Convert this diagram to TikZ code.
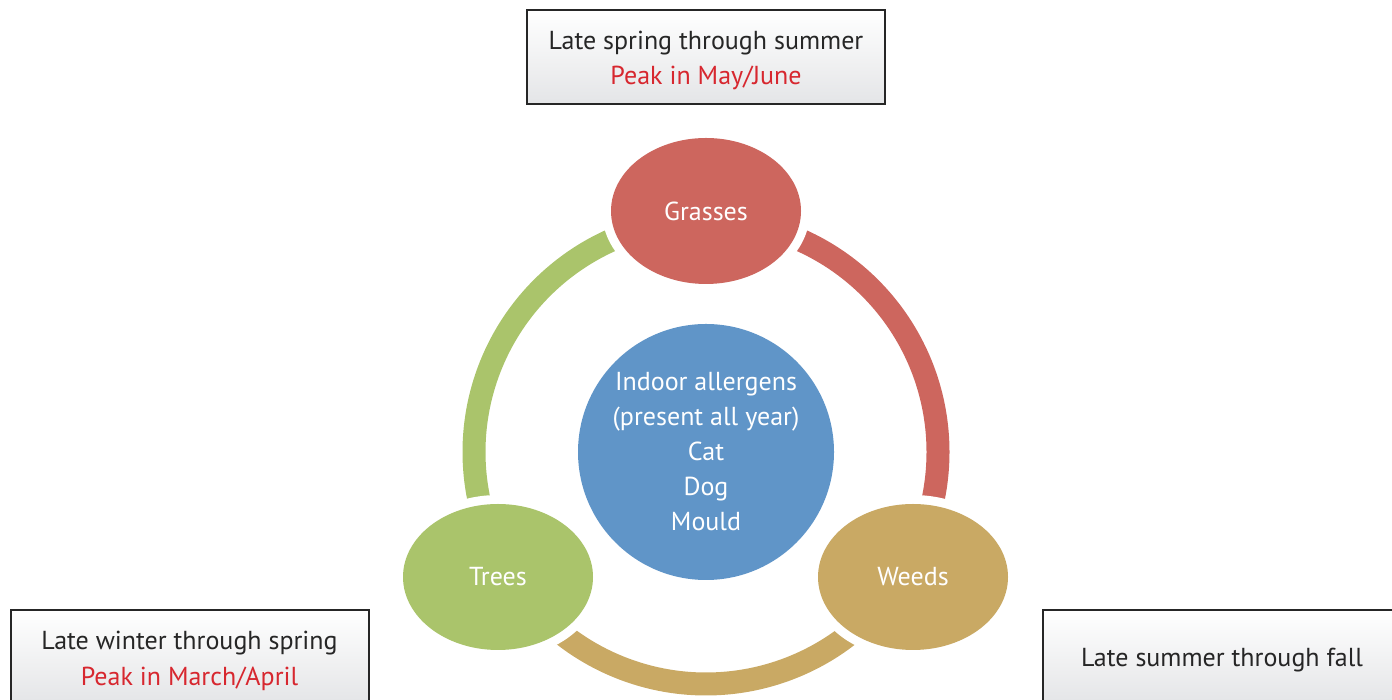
\documentclass[tikz,border=0pt]{standalone}
\usepackage{fontspec}
\setmainfont{PT Sans}
\usetikzlibrary{shapes.geometric}
\definecolor{grassc}{RGB}{205,102,94}
\definecolor{treec}{RGB}{170,196,107}
\definecolor{weedc}{RGB}{201,169,100}
\definecolor{indoorc}{RGB}{96,149,200}
\definecolor{peakc}{RGB}{215,39,47}
\definecolor{boxbot}{RGB}{228,229,231}
\begin{document}
\begin{tikzpicture}[x=1pt,y=1pt,
  seasonnode/.style={ellipse, minimum width=190pt, minimum height=146pt, inner sep=0pt,
    preaction={draw=white, line width=18pt}, text=white, font=\fontsize{26}{30}\selectfont},
  band/.style={line width=23pt, line cap=butt},
  infobox/.style={rectangle, draw=black!85, line width=2pt, top color=white, bottom color=boxbot,
    minimum width=358pt, minimum height=94pt, inner sep=0pt},
  boxtext/.style={align=center, inner sep=0pt, font=\fontsize{26}{35}\selectfont, text=black!85}
  ]
\useasboundingbox (0,0) rectangle (1392,700);
\clip (0,0) rectangle (1392,700);
\coordinate (c) at (706,248);
% bands
\draw[band, treec] ([shift={(95:232)}]c) arc[start angle=95, end angle=205, radius=232];
\draw[band, grassc] ([shift={(85:232)}]c) arc[start angle=85, end angle=-25, radius=232];
\draw[band, weedc] ([shift={(215:232)}]c) arc[start angle=215, end angle=325, radius=232];
% nodes
\node[seasonnode, fill=grassc] (grasses) at (706,489) {Grasses};
\node[seasonnode, fill=treec] (trees) at (498,123) {Trees};
\node[seasonnode, fill=weedc] (weeds) at (913,123) {Weeds};
\node[circle, fill=indoorc, minimum size=256pt, inner sep=0pt, text=white, align=center,
  font=\fontsize{26}{35}\selectfont] (indoor) at (c)
  {Indoor allergens\\(present all year)\\Cat\\Dog\\Mould};
% boxes
\node[infobox] (summer) at (706,643) {};
\node[boxtext] (summertext) at ([yshift=-3pt]summer.center) {Late spring through summer\\\textcolor{peakc}{Peak in May/June}};
\node[infobox] (spring) at (189.5,43) {};
\node[boxtext] (springtext) at ([yshift=-4pt]spring.center) {Late winter through spring\\[1pt]\textcolor{peakc}{Peak in March/April}};
\node[infobox] (fall) at (1222,43) {};
\node[boxtext] (falltext) at ([yshift=-3pt]fall.center) {Late summer through fall};
\end{tikzpicture}
\end{document}
